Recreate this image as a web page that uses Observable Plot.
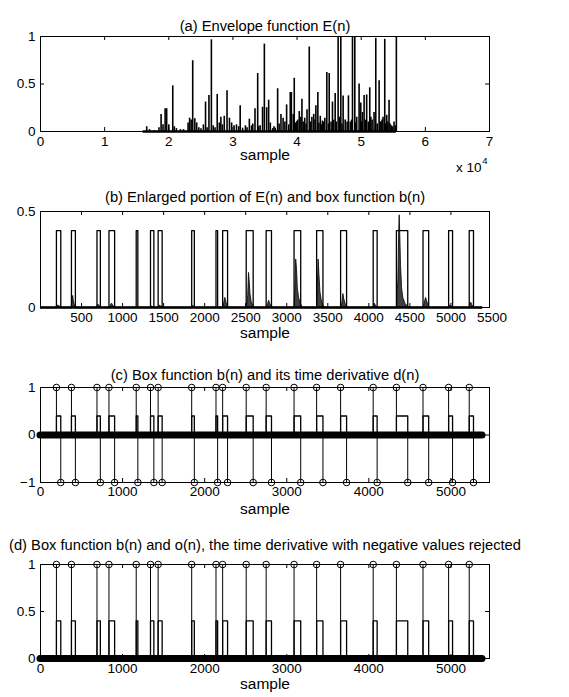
<!DOCTYPE html>
<html>
<head>
<meta charset="utf-8">
<script src="https://cdn.jsdelivr.net/npm/d3@7"></script>
<script src="https://cdn.jsdelivr.net/npm/@observablehq/plot@0.6"></script>
<style>
  body { margin: 0; background: #fff; }
  #chart { width: 569px; }
  #chart svg { display: block; }
</style>
</head>
<body>
<div id="chart"></div>
<script>
// ---------------- DATA ----------------
// (a) Envelope function E(n): spike sample positions and heights
const envSample = [16560,17000,17750,18470,18800,19100,19430,19670,20000,20620,20860,21190,21820,22300,
  23010,23250,23490,23730,24060,24350,24680,25020,25400,25730,25970,26260,26640,26930,27210,27550,27880,
  28120,28360,28650,29080,29460,29800,30180,30560,30900,31130,31510,31950,32200,32560,32900,33100,33440,33860,
  34000,34240,34620,34900,35260,35570,35830,36200,36400,36600,36970,37200,37490,37820,38100,38370,38700,38940,
  39110,39400,39560,39800,39970,40100,40340,40590,40760,40950,41190,41400,41550,41900,42100,42310,42600,42800,
  42930,43240,43400,43620,43800,43950,44100,44330,44640,44900,45010,45300,45520,45700,45940,46100,46400,46600,
  46820,47000,47180,47500,47800,48010,48300,48500,48640,49000,49150,49300,49670,49930,50000,50200,50450,50650,
  50850,51100,51330,51500,51700,52000,52270,52500,52790,52950,53100,53250,53400,53670,53800,53980,54150,54340,
  54500,54700,54900,55120,55300,55480];
const envValue = [0.05,0.02,0.01,0.04,0.18,0.07,0.24,0.24,0.07,0.48,0.05,0.03,0.02,0.02,
  0.09,0.14,0.12,0.745,0.135,0.09,0.04,0.03,0.07,0.31,0.04,0.38,0.965,0.06,0.04,0.39,0.09,
  0.15,0.07,0.16,0.43,0.14,0.09,0.06,0.07,0.05,0.27,0.035,0.06,0.04,0.13,0.06,0.08,0.24,0.61,
  0.05,0.06,0.255,0.92,0.25,0.33,0.09,0.03,0.05,0.035,0.45,0.08,0.18,0.14,0.10,0.28,0.07,0.41,
  0.41,0.18,0.56,0.09,0.105,0.12,0.21,0.15,0.34,0.10,0.14,0.08,0.23,0.89,0.10,0.15,0.18,0.12,
  0.27,0.41,0.09,0.16,0.07,0.11,0.10,0.14,0.62,0.08,0.61,0.10,0.31,0.12,0.40,0.10,1.0,0.15,
  1.0,0.08,0.375,0.12,0.10,0.375,0.10,0.12,1.0,1.0,0.09,0.15,0.50,0.30,0.10,0.20,0.38,0.12,
  0.385,0.10,0.46,0.15,0.12,0.20,0.98,0.08,0.535,0.10,0.10,0.12,0.15,0.97,0.08,0.17,0.10,0.33,
  0.08,0.06,0.05,0.10,0.06,1.0];
const envFloor = [16000, 55500];           // dense near-zero envelope region (samples)

// (b)-(d) box function b(n): rising and falling edges (samples), level
const boxRise = [194, 377, 688, 834, 1166, 1340, 1433, 1842, 2138, 2219, 2506, 2749, 3089, 3364, 3656, 4053, 4336, 4660, 4972, 5223];
const boxFall = [247, 425, 729, 903, 1186, 1381, 1482, 1874, 2158, 2279, 2591, 2814, 3170, 3441, 3729, 4101, 4474, 4729, 5020, 5275];
const boxLevel = 0.4;
const lastSample = 5385;

// (b) enlarged portion of E(n): one burst per box, [sample, E]
const bursts = [
  [[200,0],[212,0.01],[225,0.008],[245,0.002],[260,0]],
  [[380,0],[390,0.04],[398,0.06],[405,0.035],[415,0.015],[430,0.005],[445,0]],
  [[690,0],[705,0.015],[720,0.008],[740,0]],
  [[845,0],[862,0.015],[872,0.02],[885,0.01],[905,0]],
  [[1345,0],[1360,0.005],[1380,0]],
  [[1440,0],[1455,0.01],[1470,0.005],[1490,0]],
  [[1845,0],[1858,0.01],[1875,0]],
  [[2230,0],[2242,0.03],[2252,0.05],[2262,0.03],[2275,0.012],[2295,0]],
  [[2515,0],[2530,0.06],[2540,0.18],[2548,0.14],[2558,0.07],[2572,0.03],[2590,0.01],[2610,0]],
  [[2760,0],[2775,0.02],[2785,0.035],[2797,0.02],[2815,0.005],[2830,0]],
  [[3095,0],[3105,0.08],[3115,0.25],[3125,0.2],[3135,0.1],[3150,0.05],[3170,0.02],[3195,0]],
  [[3368,0],[3378,0.1],[3388,0.25],[3398,0.17],[3410,0.08],[3425,0.04],[3445,0.01],[3465,0]],
  [[3668,0],[3680,0.03],[3690,0.07],[3700,0.045],[3715,0.02],[3735,0.005],[3750,0]],
  [[4060,0],[4072,0.02],[4085,0.01],[4105,0]],
  [[4345,0],[4360,0.15],[4370,0.4],[4376,0.48],[4383,0.38],[4392,0.22],[4405,0.1],[4420,0.05],[4445,0.02],[4475,0.005],[4490,0]],
  [[4670,0],[4685,0.03],[4697,0.05],[4708,0.035],[4722,0.015],[4745,0]],
  [[4978,0],[4990,0.01],[5005,0.005],[5025,0]],
  [[5230,0],[5240,0.02],[5248,0.025],[5260,0.012],[5280,0]]
];

// tick values
const xTicksA = [0, 10000, 20000, 30000, 40000, 50000, 60000, 70000];
const xTicksB = [500, 1000, 1500, 2000, 2500, 3000, 3500, 4000, 4500, 5000, 5500];
const xTicksCD = [0, 1000, 2000, 3000, 4000, 5000];
const yTicksA = [0, 0.5, 1];
const yTicksB = [0, 0.5];
const yTicksC = [-1, 0, 1];
const yTicksD = [0, 0.5, 1];

// ---------------- LAYOUT ----------------
const W = 569, ML = 40, MR = 80, TICK = 4;
const FONT = "'Liberation Sans', Arial, Helvetica, sans-serif";
const TICKFS = 13.5, TITLEFS = 14.7, LABELFS = 15.5;
const fmtNum = d => (d < 0 ? "\u2212" + (-d) : String(d));

function panel(o) {
  const {height, marginTop, marginBottom, xDomain, yDomain, xTicks, xFmt, yTicks, title, xlabel,
         marks, titleDy = -17, labelDy = 29, tickPad = 5, after = []} = o;
  const innerW = W - ML - MR, innerH = height - marginTop - marginBottom;
  const kx = (xDomain[1] - xDomain[0]) * TICK / innerW;
  const ky = (yDomain[1] - yDomain[0]) * TICK / innerH;
  const xt = xTicks.filter(t => t >= xDomain[0] && t <= xDomain[1]);
  return Plot.plot({
    width: W, height, marginLeft: ML, marginRight: MR, marginTop, marginBottom,
    x: {domain: xDomain}, y: {domain: yDomain},
    style: {fontFamily: FONT, fontSize: TICKFS + "px", background: "white", color: "black", overflow: "visible"},
    marks: [
      ...marks,
      Plot.ruleX(xt, {x: d => d, y1: yDomain[0], y2: yDomain[0] + ky, stroke: "black"}),
      Plot.ruleX(xt, {x: d => d, y1: yDomain[1], y2: yDomain[1] - ky, stroke: "black"}),
      Plot.ruleY(yTicks, {y: d => d, x1: xDomain[0], x2: xDomain[0] + kx, stroke: "black"}),
      Plot.ruleY(yTicks, {y: d => d, x1: xDomain[1], x2: xDomain[1] - kx, stroke: "black"}),
      Plot.frame({stroke: "black", strokeWidth: 1}),
      Plot.axisX(xTicks, {tickSize: 0, tickPadding: tickPad, tickFormat: xFmt || fmtNum, label: null, fontSize: TICKFS}),
      Plot.axisY(yTicks, {tickSize: 0, tickPadding: 5, tickFormat: fmtNum, label: null, fontSize: TICKFS}),
      Plot.text([title], {text: d => d, frameAnchor: "top", dy: titleDy, fontSize: TITLEFS}),
      Plot.text([xlabel], {text: d => d, frameAnchor: "bottom", dy: labelDy, fontSize: LABELFS}),
      ...after
    ]
  });
}

// tables built from the arrays
const spikes = envSample.map((n, i) => ({n, e: envValue[i]}));
const stepPts = [{n: 0, b: 0}];
boxRise.forEach((r, i) => {
  stepPts.push({n: r, b: 0}, {n: r, b: boxLevel}, {n: boxFall[i], b: boxLevel}, {n: boxFall[i], b: 0});
});
stepPts.push({n: lastSample, b: 0});
const burstPts = bursts.flatMap((b, k) => b.map(([n, e]) => ({n, e, k})));

const X_DOMAIN = [0, 5470];
const chart = document.getElementById("chart");

// (a)
chart.append(panel({
  height: 176, marginTop: 36, marginBottom: 45,
  xDomain: [0, 70000], yDomain: [0, 1],
  xTicks: xTicksA, xFmt: d => String(d / 10000), yTicks: yTicksA,
  title: "(a) Envelope function E(n)", xlabel: "sample", titleDy: -16, labelDy: 28,
  marks: [
    Plot.ruleY([0], {x1: envFloor[0], x2: envFloor[1], stroke: "black", strokeWidth: 2.5}),
    Plot.ruleX(spikes, {x: "n", y1: 0, y2: "e", stroke: "black", strokeWidth: 1.6, clip: true})
  ],
  after: [
    Plot.text(["x 10"], {text: d => d, frameAnchor: "bottom-right", dx: -8, dy: 40, textAnchor: "end", fontSize: TICKFS}),
    Plot.text(["4"], {text: d => d, frameAnchor: "bottom-right", dx: -2, dy: 32, textAnchor: "end", fontSize: 9.5})
  ]
}));

// (b)
chart.append(panel({
  height: 176, marginTop: 35, marginBottom: 45,
  xDomain: X_DOMAIN, yDomain: [0, 0.5],
  xTicks: xTicksB, yTicks: yTicksB,
  title: "(b) Enlarged portion of E(n) and box function b(n)", xlabel: "sample", titleDy: -20, labelDy: 30,
  marks: [
    Plot.areaY(burstPts, {x: "n", y: "e", z: "k", fill: "#404040", stroke: "black", strokeWidth: 0.8}),
    Plot.line(stepPts, {x: "n", y: "b", stroke: "black", strokeWidth: 1.3}),
    Plot.ruleY([0], {x1: 0, x2: lastSample, stroke: "black", strokeWidth: 2.5})
  ]
}));

// (c)
chart.append(panel({
  height: 176, marginTop: 35, marginBottom: 46,
  xDomain: X_DOMAIN, yDomain: [-1, 1],
  xTicks: xTicksCD, yTicks: yTicksC,
  title: "(c) Box function b(n) and its time derivative d(n)", xlabel: "sample", titleDy: -18, labelDy: 31, tickPad: 4,
  marks: [
    Plot.line(stepPts, {x: "n", y: "b", stroke: "black", strokeWidth: 1.3}),
    Plot.ruleX(boxRise, {x: d => d, y1: 0, y2: 1, stroke: "black", strokeWidth: 1}),
    Plot.ruleX(boxFall, {x: d => d, y1: 0, y2: -1, stroke: "black", strokeWidth: 1}),
    Plot.dot(boxRise, {x: d => d, y: 1, r: 3.3, stroke: "black", fill: "none", strokeWidth: 1}),
    Plot.dot(boxFall, {x: d => d, y: -1, r: 3.3, stroke: "black", fill: "none", strokeWidth: 1}),
    Plot.ruleY([0], {x1: 0, x2: lastSample, stroke: "black", strokeWidth: 7, strokeLinecap: "round"})
  ]
}));

// (d)
chart.append(panel({
  height: 169, marginTop: 36, marginBottom: 39,
  xDomain: X_DOMAIN, yDomain: [0, 1],
  xTicks: xTicksCD, yTicks: yTicksD,
  title: "(d) Box function b(n) and o(n), the time derivative with negative values rejected", xlabel: "sample", titleDy: -25, labelDy: 30,
  marks: [
    Plot.line(stepPts, {x: "n", y: "b", stroke: "black", strokeWidth: 1.3}),
    Plot.ruleX(boxRise, {x: d => d, y1: 0, y2: 1, stroke: "black", strokeWidth: 1}),
    Plot.dot(boxRise, {x: d => d, y: 1, r: 3.3, stroke: "black", fill: "none", strokeWidth: 1}),
    Plot.ruleY([0], {x1: 0, x2: lastSample, stroke: "black", strokeWidth: 7, strokeLinecap: "round"})
  ]
}));
</script>
</body>
</html>
